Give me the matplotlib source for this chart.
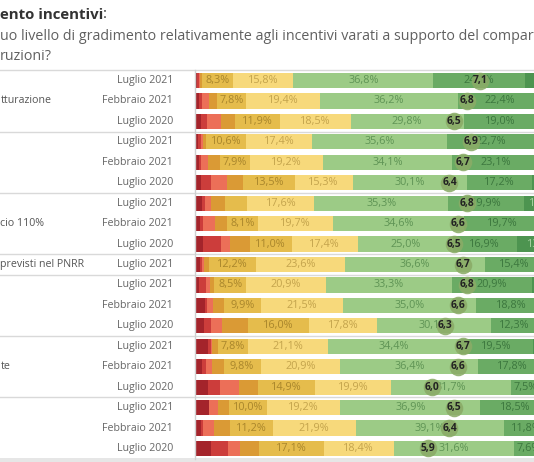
import matplotlib
matplotlib.use('Agg')
import matplotlib.pyplot as plt
from matplotlib.transforms import blended_transform_factory, IdentityTransform
from matplotlib.patches import Rectangle

# ---------------- data ----------------
periods = ["Luglio 2021", "Febbraio 2021", "Luglio 2020",
           "Luglio 2021", "Febbraio 2021", "Luglio 2020",
           "Luglio 2021", "Febbraio 2021", "Luglio 2020",
           "Luglio 2021",
           "Luglio 2021", "Febbraio 2021", "Luglio 2020",
           "Luglio 2021", "Febbraio 2021", "Luglio 2020",
           "Luglio 2021", "Febbraio 2021", "Luglio 2020"]
group_labels = ["tturazione", "", "cio 110%", "previsti nel PNRR", "", "te", ""]
group_sizes = [3, 3, 3, 1, 3, 3, 3]

seg1 = [0.6, 1.05, 1.5, 0.9, 1.0, 1.6, 1.9, 1.3, 2.2, 1.3, 1.1, 2.5, 2.4, 3.5, 1.9, 3.5, 3.6, 1.5, 4.1]
seg2 = [0.5, 0.9, 1.75, 0.6, 0.6, 2.5, 0.7, 0.7, 4.6, 0.5, 1.7, 0.6, 1.7, 0.6, 0.9, 3.1, 0.1, 0.7, 4.5]
seg3 = [0.3, 1.75, 3.6, 0.6, 1.9, 4.2, 1.5, 3.2, 2.3, 0.6, 1.1, 1.6, 2.9, 0.5, 1.6, 5.0, 2.3, 2.8, 3.2]
seg4 = [0.4, 2.0, 3.7, 0.7, 3.0, 4.4, 3.8, 3.3, 5.3, 1.4, 1.1, 2.8, 7.0, 1.5, 3.1, 5.1, 3.0, 4.2, 5.0]
seg5 = [8.3, 7.8, 11.9, 10.6, 7.9, 13.5, 5.9, 8.1, 11.0, 12.2, 8.5, 9.9, 16.0, 7.8, 9.8, 14.9, 10.0, 11.2, 17.1]
seg6 = [15.8, 19.4, 18.5, 17.4, 19.2, 15.3, 17.6, 19.7, 17.4, 23.6, 20.9, 21.5, 17.8, 21.1, 20.9, 19.9, 19.2, 21.9, 18.4]
seg7 = [36.8, 36.2, 29.8, 35.6, 34.1, 30.1, 35.3, 34.6, 25.0, 36.6, 33.3, 35.0, 30.1, 34.4, 36.4, 31.7, 36.9, 39.1, 31.6]
seg8 = [24.1, 22.4, 19.0, 22.7, 23.1, 17.2, 19.9, 19.7, 16.9, 15.4, 20.9, 18.8, 12.3, 19.5, 17.8, 7.5, 18.5, 11.8, 7.6]
seg9 = [13.2, 8.5, 10.2, 10.0, 9.2, 11.2, 10.5, 9.4, 13.5, 8.4, 11.4, 7.3, 9.8, 11.1, 7.6, 9.3, 6.4, 6.8, 8.5]
means = [7.1, 6.8, 6.5, 6.9, 6.7, 6.4, 6.8, 6.6, 6.5, 6.7, 6.8, 6.6, 6.3, 6.7, 6.6, 6.0, 6.5, 6.4, 5.9]

segments = [seg1, seg2, seg3, seg4, seg5, seg6, seg7, seg8, seg9]
seg_colors = ["#a4242b", "#cc3d3b", "#ec6f58", "#da9a35", "#e5bc4c",
              "#f7d97b", "#9ccb86", "#6aab64", "#4d9450"]
label_colors = [None, None, None, None, "#a9862c", "#c4a44d", "#5f9455",
                "#3c773e", "#a9d3a3"]

# ---------------- layout ----------------
W, H = 534, 462
fig = plt.figure(figsize=(W / 100, H / 100), dpi=100)
plt.rcParams['font.family'] = ['Open Sans', 'DejaVu Sans']

ax_left, ax_right = 195, 534
ax_top, ax_bot = 70.3, 458.7
ax = fig.add_axes([ax_left / W, 1 - ax_bot / H, (ax_right - ax_left) / W, (ax_bot - ax_top) / H])
n = len(periods)
ax.set_ylim(n - 0.5, -0.5)
ax.set_xlim(0, (ax_right - ax_left) / 3.8)
ax.axis('off')

bar_h = 0.74
left = [0.0] * n
for k, (vals, col) in enumerate(zip(segments, seg_colors)):
    ax.barh(range(n), vals, left=left, height=bar_h, color=col, linewidth=0, zorder=2)
    if label_colors[k] is not None:
        for i in range(n):
            if vals[i] >= 7.2:
                ax.text(left[i] + vals[i] / 2, i, f"{vals[i]:.1f}".replace('.', ',') + '%',
                        ha='center', va='center', fontsize=7.8, color=label_colors[k],
                        zorder=3, clip_on=True)
    left = [a + b for a, b in zip(left, vals)]

# mean circles on independent axis
ax2 = ax.twiny()
ax2.set_xlim(0.56, 8.34)
ax2.set_ylim(n - 0.5, -0.5)
ax2.axis('off')
ax2.scatter(means, range(n), s=160, color="#8aab67", alpha=0.88, linewidths=0, zorder=4)
for i, m in enumerate(means):
    ax2.text(m, i, f"{m:.1f}".replace('.', ','), ha='center', va='center',
             fontsize=7.4, fontweight='bold', color="#222222", zorder=5)

# separators
tr = blended_transform_factory(fig.transFigure, ax.transData)
bounds = [-0.5]
acc = -0.5
for g in group_sizes:
    acc += g
    bounds.append(acc)
for b in bounds[:-1]:
    ax.plot([0, 1], [b, b], transform=tr, color="#d9d9d9", lw=1.0, clip_on=False, zorder=1)

# vertical axis line
fig.add_artist(plt.Line2D([194.5 / W, 194.5 / W], [1 - ax_bot / H, 1 - ax_top / H],
                          transform=fig.transFigure, color="#d0d0d0", lw=1.0))

# row labels
row_tr = blended_transform_factory(IdentityTransform(), ax.transData)
for i, p in enumerate(periods):
    ax.text(173, i, p, transform=row_tr, ha='right', va='center',
            fontsize=7.7, color="#666666")

# group labels
start = 0
for g, lab in zip(group_sizes, group_labels):
    row = start + 1 if g == 3 else start
    if lab:
        ax.text(0.5 / W, row, lab, transform=tr, ha='left', va='center',
                fontsize=7.7, color="#555555")
    start += g

# titles
fig.text(0, 1 - 15 / H, "ento incentivi", fontsize=10.8, fontweight='bold',
         color="#333333", ha='left', va='center')
fig.text(103 / W, 1 - 15 / H, ":", fontsize=10.8, color="#333333", ha='left', va='center')
fig.text(0, 1 - 36 / H, "uo livello di gradimento relativamente agli incentivi varati a supporto del comparto",
         fontsize=10.3, color="#606060", ha='left', va='center')
fig.text(0, 1 - 56 / H, "ruzioni?", fontsize=10.3, color="#606060", ha='left', va='center')

# bottom band
fig.add_artist(Rectangle((0, 0), 1, 4.5 / H, transform=fig.transFigure,
                         facecolor="#e6e6e6", edgecolor='none'))

fig.savefig("out.png", dpi=100)
